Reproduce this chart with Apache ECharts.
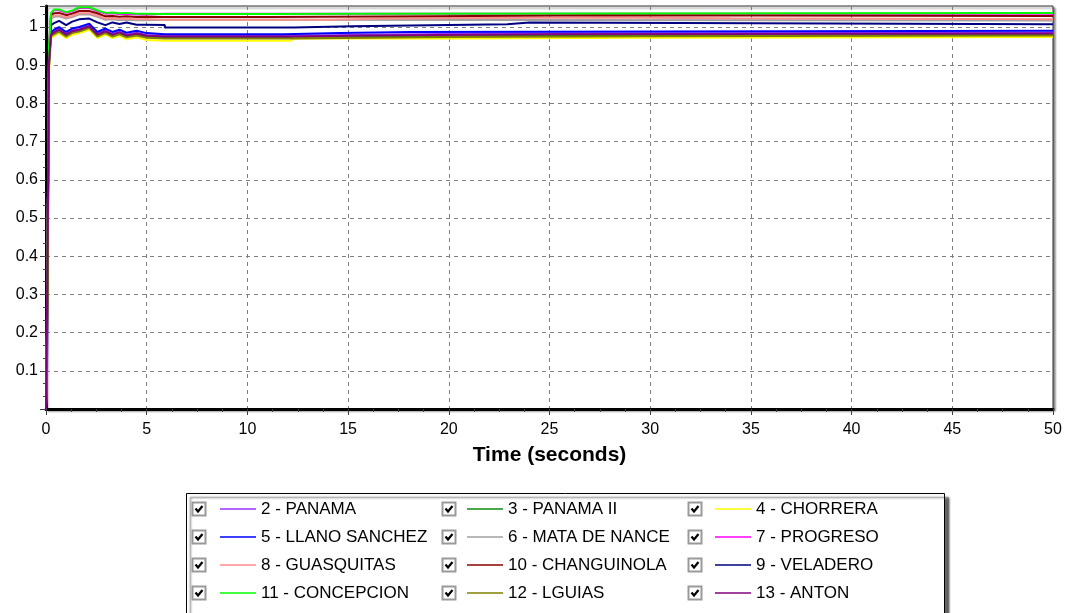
<!DOCTYPE html>
<html>
<head>
<meta charset="utf-8">
<title>Time (seconds)</title>
<script src="https://cdn.jsdelivr.net/npm/echarts@6/dist/echarts.min.js"></script>
<style>
  html, body { margin: 0; padding: 0; background: #fff; }
  #chart { width: 1070px; height: 613px; }
</style>
</head>
<body>
<div id="chart"></div>
<script>
// shared time points of the start-up transient (seconds)
const tStart = [0, 0.05, 0.15, 0.25, 0.4, 0.65, 1.0, 1.3, 1.65, 2.15, 2.55, 2.95, 3.3, 3.65, 4.0, 4.5, 5.0, 5.9];

// transient values, one per tStart point
const panamaStart      = [0, 0.30, 0.92, 0.982, 0.988, 0.995, 0.982, 0.991, 0.995, 1.004, 0.982, 0.991, 0.982, 0.988, 0.980, 0.985, 0.979, 0.977];
const panama2Start     = [0, 0.20, 0.92, 0.977, 0.983, 0.990, 0.977, 0.986, 0.990, 0.999, 0.977, 0.986, 0.977, 0.983, 0.975, 0.980, 0.974, 0.972];
const chorreraStart    = [0, 0.18, 0.88, 0.971, 0.977, 0.984, 0.971, 0.980, 0.984, 0.993, 0.971, 0.980, 0.971, 0.977, 0.968, 0.973, 0.966, 0.964];
const llanoStart       = [0, 0.08, 0.90, 0.987, 0.993, 1.000, 0.987, 0.996, 1.000, 1.009, 0.987, 0.996, 0.987, 0.993, 0.985, 0.990, 0.984, 0.981];
const mataStart        = [0, 0.20, 0.93, 1.022, 1.027, 1.028, 1.022, 1.026, 1.033, 1.033, 1.027, 1.019, 1.020, 1.018, 1.019, 1.018, 1.018, 1.019];
const progresoStart    = [0, 0.20, 0.94, 1.035, 1.044, 1.044, 1.037, 1.041, 1.050, 1.050, 1.042, 1.035, 1.036, 1.034, 1.035, 1.033, 1.033, 1.035];
const guasquitasStart  = [0, 0.20, 0.93, 1.025, 1.030, 1.031, 1.025, 1.029, 1.036, 1.036, 1.030, 1.022, 1.023, 1.021, 1.022, 1.020, 1.021, 1.019];
const changuinolaStart = [0, 0.20, 0.94, 1.031, 1.036, 1.037, 1.031, 1.035, 1.042, 1.042, 1.036, 1.028, 1.029, 1.027, 1.028, 1.026, 1.027, 1.026];
const veladeroStart    = [0, 0.20, 0.92, 1.005, 1.010, 1.016, 1.005, 1.014, 1.020, 1.022, 1.012, 1.005, 1.012, 1.008, 1.012, 1.006, 1.006, 1.005];
const concepcionStart  = [0, 0.20, 0.95, 1.037, 1.046, 1.046, 1.039, 1.043, 1.052, 1.052, 1.044, 1.037, 1.038, 1.036, 1.037, 1.035, 1.035, 1.034];
const lguiasStart      = [0, 0.14, 0.90, 0.975, 0.981, 0.988, 0.975, 0.984, 0.988, 0.997, 0.975, 0.984, 0.975, 0.981, 0.973, 0.978, 0.972, 0.970];
const antonStart       = [0, 0.25, 0.91, 0.980, 0.986, 0.993, 0.980, 0.989, 0.993, 1.002, 0.980, 0.989, 0.980, 0.986, 0.978, 0.983, 0.977, 0.975];

// later steps: [time where the value changes, new value]
const panamaSteps      = [[12.3, 0.980], [16, 0.983], [22, 0.985], [50, 0.985]];
const panama2Steps     = [[12.3, 0.976], [20, 0.978], [29.7, 0.980], [50, 0.980]];
const chorreraSteps    = [[12.2, 0.970], [20, 0.972], [29.7, 0.974], [50, 0.974]];
const llanoSteps       = [[11.8, 0.984], [14.6, 0.987], [18.1, 0.990], [50, 0.990]];
const mataSteps        = [[11, 1.017], [50, 1.017]];
const progresoSteps    = [[50, 1.035]];
const guasquitasSteps  = [[14.1, 1.022], [17, 1.025], [27.5, 1.023], [34, 1.020], [50, 1.020]];
const changuinolaSteps = [[11, 1.028], [19.2, 1.031], [27.6, 1.029], [50, 1.029]];
const veladeroSteps    = [[5.9, 0.999], [12.3, 1.002], [15.2, 1.007], [22.9, 1.012], [24, 1.007], [50, 1.007]];
const concepcionSteps  = [[11, 1.035], [15.3, 1.037], [50, 1.037]];
const lguiasSteps      = [[12.3, 0.974], [20, 0.976], [29.7, 0.978], [50, 0.978]];
const antonSteps       = [[12.3, 0.978], [16, 0.981], [25, 0.983], [50, 0.983]];

const names = ['2 - PANAMA', '3 - PANAMA II', '4 - CHORRERA', '5 - LLANO SANCHEZ', '6 - MATA DE NANCE', '7 - PROGRESO',
  '8 - GUASQUITAS', '10 - CHANGUINOLA', '9 - VELADERO', '11 - CONCEPCION', '12 - LGUIAS', '13 - ANTON'];
const colors = ['#9933ff', '#108a10', '#ffff00', '#0000ff', '#a0a0a0', '#ff00ff',
  '#ff8c8c', '#8b0000', '#000080', '#00ff00', '#808000', '#800080'];
const starts = [panamaStart, panama2Start, chorreraStart, llanoStart, mataStart, progresoStart,
  guasquitasStart, changuinolaStart, veladeroStart, concepcionStart, lguiasStart, antonStart];
const steps = [panamaSteps, panama2Steps, chorreraSteps, llanoSteps, mataSteps, progresoSteps,
  guasquitasSteps, changuinolaSteps, veladeroSteps, concepcionSteps, lguiasSteps, antonSteps];

const FONT = 'Liberation Sans, Arial, sans-serif';

// transient points, then horizontal runs with vertical jumps
function buildPoints(start, stepList) {
  const pts = tStart.map((t, i) => [t, start[i]]);
  let prev = start[start.length - 1];
  stepList.forEach(([t, v]) => {
    pts.push([t, prev]);
    if (v !== prev) pts.push([t, v]);
    prev = v;
  });
  return pts;
}

const series = names.map((name, i) => ({
  name,
  type: 'line',
  symbol: 'none',
  showSymbol: false,
  data: buildPoints(starts[i], steps[i]),
  lineStyle: { color: colors[i], width: 2 },
  itemStyle: { color: colors[i] },
  animation: false
}));

// legend: 3 columns of 4 rows
const lineX = [220, 467, 715];
const boxX = [192, 442, 688];
const firstRowMid = 509;
const rowStep = 28;
const itemH = 17;

const legends = [0, 1, 2].map(c => ({
  data: names.filter((_, i) => i % 3 === c),
  orient: 'vertical',
  left: lineX[c],
  top: firstRowMid - itemH / 2,
  padding: 0,
  // thin bar as the line sample, no symbol
  icon: 'path://M0,0H36V1.3H0Z',
  symbolKeepAspect: true,
  itemWidth: 36,
  itemHeight: itemH,
  itemGap: rowStep - itemH,
  selectedMode: false,
  textStyle: { fontSize: 17, lineHeight: itemH, color: '#000', fontFamily: FONT }
}));

const checkboxes = [];
for (let c = 0; c < 3; c++) {
  for (let r = 0; r < 4; r++) {
    checkboxes.push({
      type: 'group',
      x: boxX[c],
      y: firstRowMid - 7 + r * rowStep,
      z: 10,
      children: [
        { type: 'rect', shape: { x: 0.5, y: 0.5, width: 13, height: 13 },
          style: { fill: '#fff', stroke: '#9a9a9a', lineWidth: 2 } },
        { type: 'polyline', shape: { points: [[3.5, 6.5], [6, 9.5], [10.5, 4]] },
          style: { stroke: '#000', lineWidth: 2.2, fill: null } }
      ]
    });
  }
}

const chart = echarts.init(document.getElementById('chart'), null, { renderer: 'canvas' });
chart.setOption({
  backgroundColor: '#fff',
  animation: false,
  grid: {
    left: 46, right: 17, top: 6, bottom: 204,
    show: true, backgroundColor: '#fff', borderColor: '#303030', borderWidth: 1,
    shadowColor: 'rgba(0,0,0,0.45)', shadowOffsetX: 2, shadowOffsetY: 2, shadowBlur: 2
  },
  legend: legends,
  graphic: [
    { type: 'rect', z: 0, shape: { x: 186.5, y: 493.5, width: 758, height: 140 },
      style: { fill: '#fff', stroke: '#000', lineWidth: 1,
        shadowColor: 'rgba(0,0,0,0.6)', shadowOffsetX: 4, shadowOffsetY: 4, shadowBlur: 2 } },
    ...checkboxes
  ],
  xAxis: {
    type: 'value', min: 0, max: 50, interval: 5,
    name: 'Time (seconds)', nameLocation: 'middle', nameGap: 36,
    nameTextStyle: { fontSize: 21, fontWeight: 'bold', color: '#000', fontFamily: FONT },
    axisLine: { show: true, onZero: false, lineStyle: { color: '#000', width: 3 } },
    axisTick: { show: true, length: 6, lineStyle: { color: '#404040' } },
    minorTick: { show: true, splitNumber: 4, length: 3, lineStyle: { color: '#404040' } },
    axisLabel: { fontSize: 16, color: '#000', margin: 13, fontFamily: FONT },
    splitLine: { show: true, showMinLine: false, showMaxLine: false,
      lineStyle: { color: '#808080', type: [4, 4] } }
  },
  yAxis: {
    type: 'value', min: 0, max: 1.055, interval: 0.1,
    axisLine: { show: true, onZero: false, lineStyle: { color: '#000', width: 3 } },
    axisTick: { show: true, length: 6, lineStyle: { color: '#404040' } },
    minorTick: { show: true, splitNumber: 3, length: 3, lineStyle: { color: '#404040' } },
    axisLabel: { fontSize: 16, color: '#000', margin: 8, fontFamily: FONT,
      showMinLabel: false, showMaxLabel: false },
    splitLine: { show: true, showMinLine: false, showMaxLine: false,
      lineStyle: { color: '#808080', type: [4, 4] } }
  },
  series
});
</script>
</body>
</html>
